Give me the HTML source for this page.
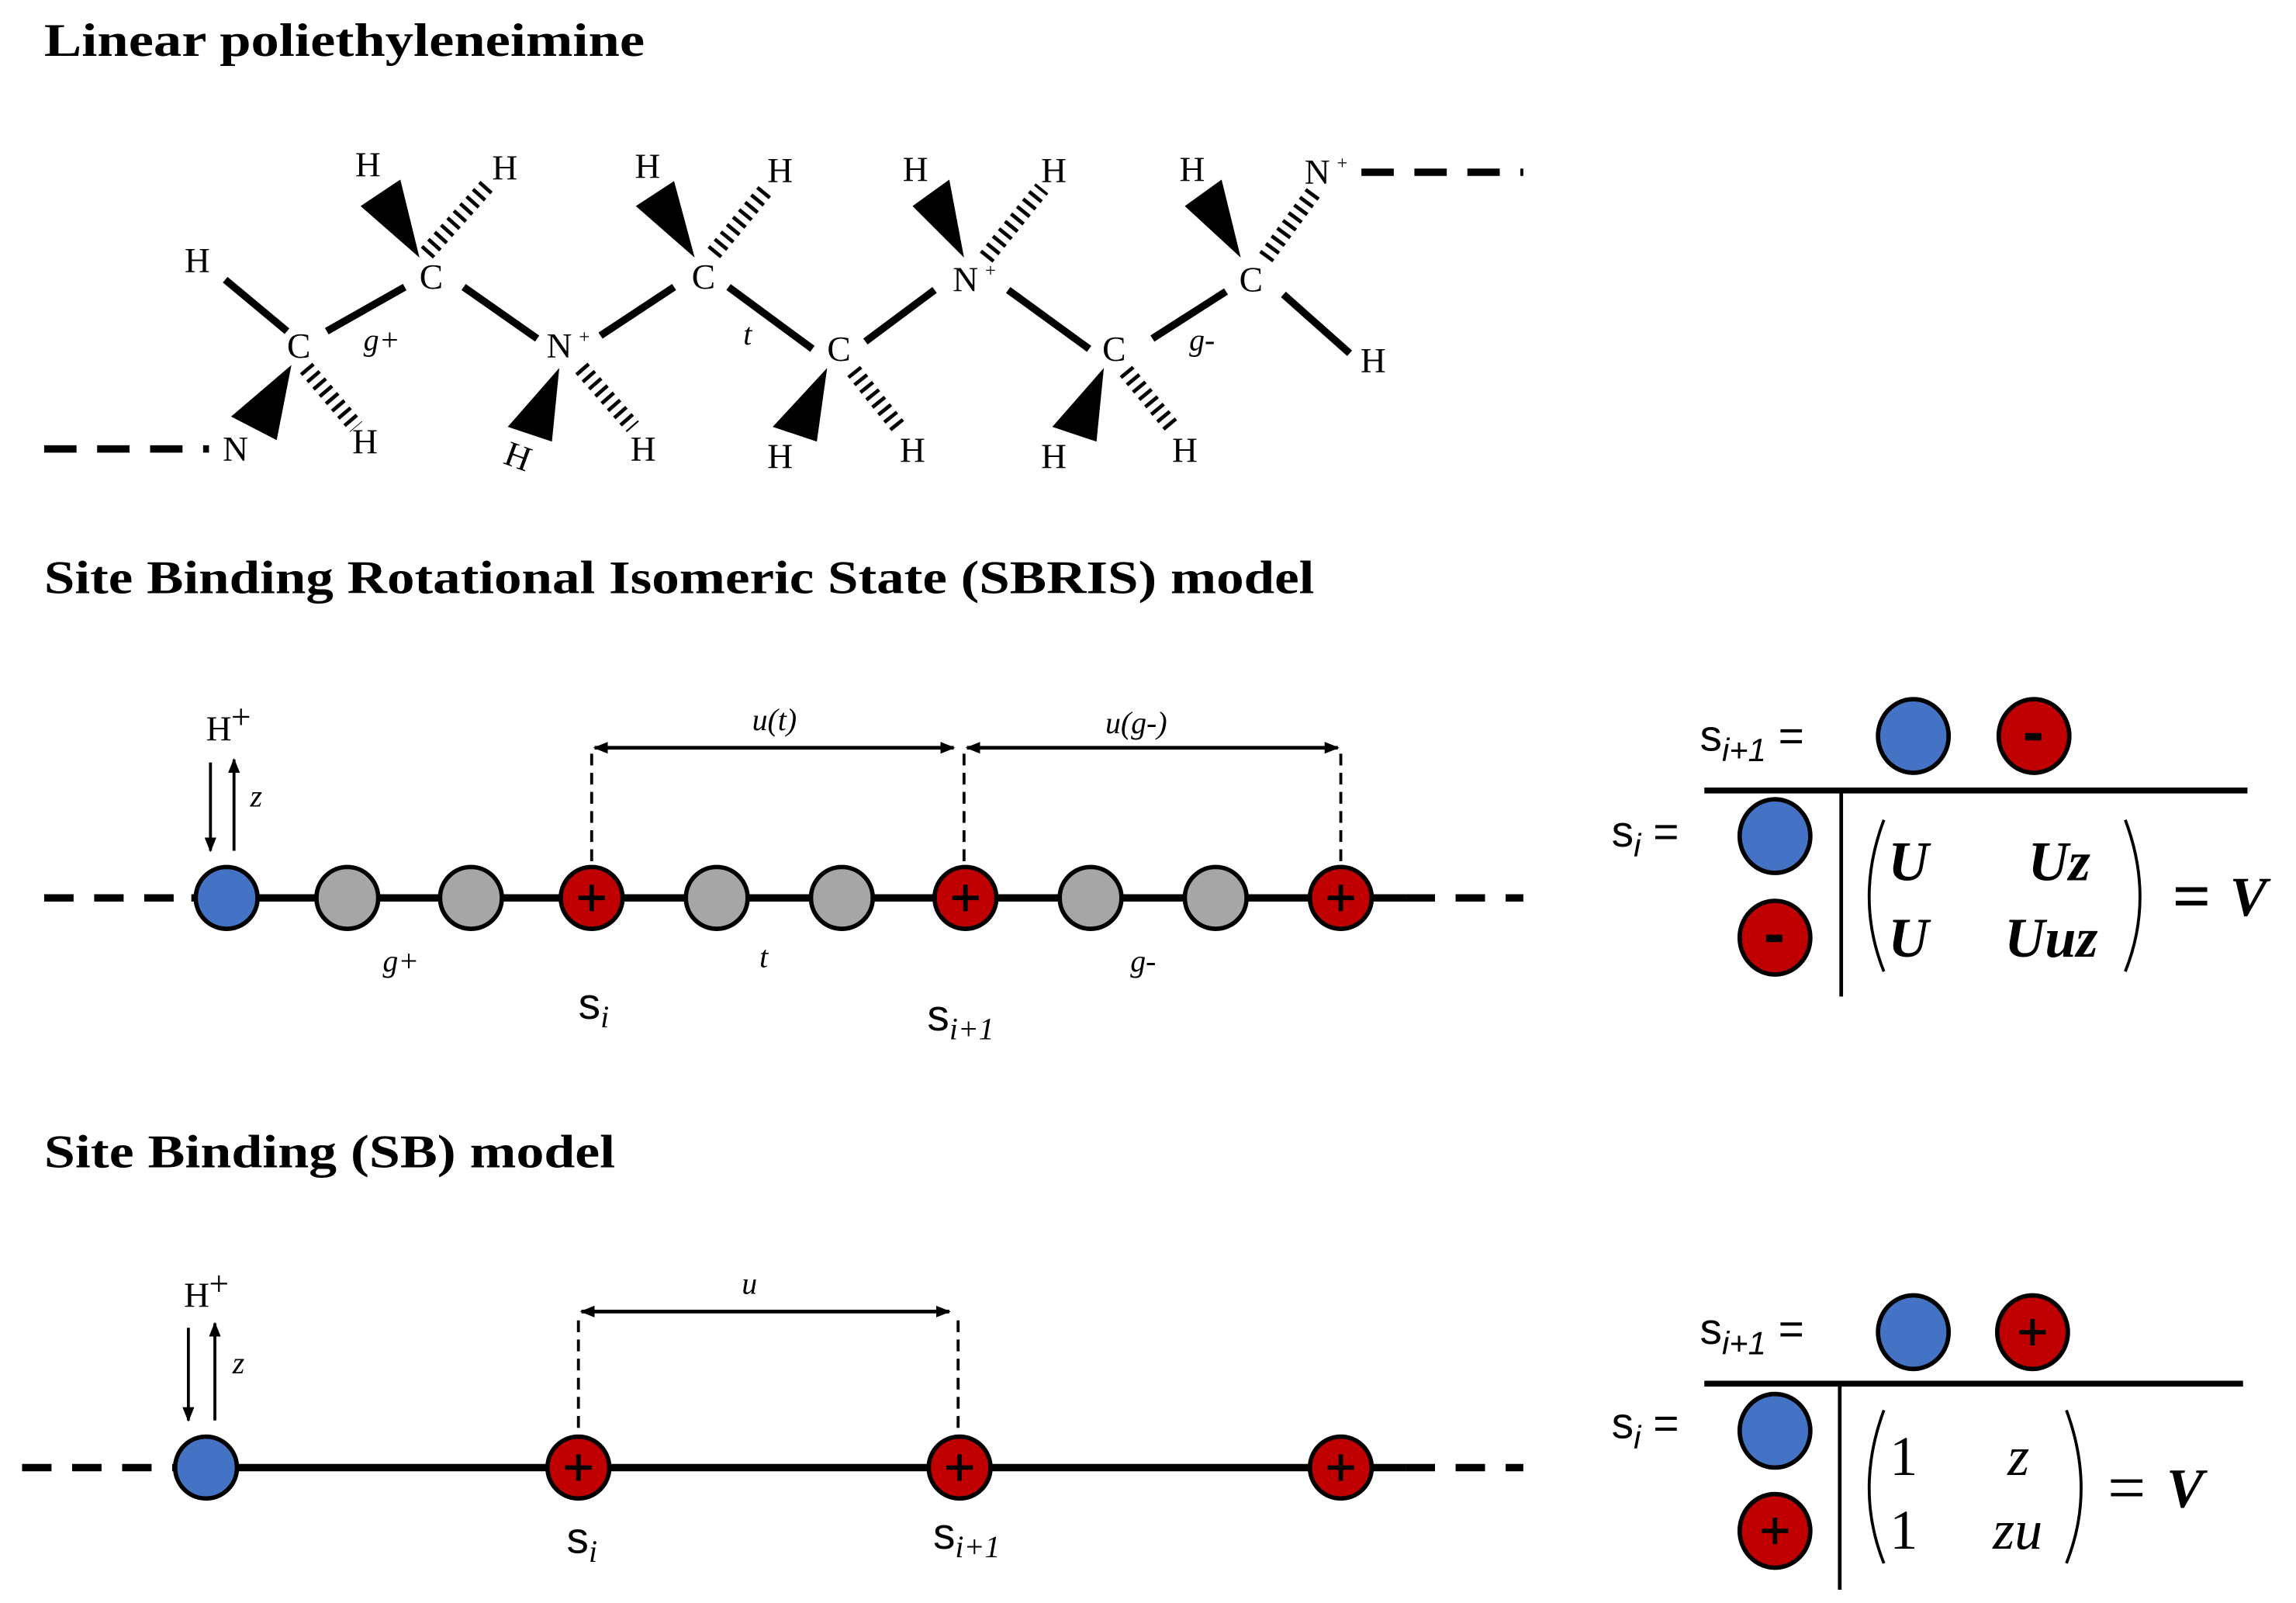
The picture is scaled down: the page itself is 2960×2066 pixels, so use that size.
<!DOCTYPE html>
<html><head><meta charset="utf-8"><style>
html,body{margin:0;padding:0;background:#fff;}
svg{display:block;}
.t{font-family:"Liberation Serif",serif;font-weight:bold;font-size:32px;}
.a{font-family:"Liberation Serif",serif;font-size:24px;}
.i{font-family:"Liberation Serif",serif;font-style:italic;font-size:21px;}
.m{font-family:"Liberation Serif",serif;font-style:italic;font-weight:bold;font-size:38px;}
.mn{font-family:"Liberation Serif",serif;font-style:italic;font-size:38px;}
.s{font-family:"Liberation Sans",sans-serif;font-size:30px;}
</style></head><body>
<svg width="2960" height="2066" viewBox="0 0 1560 1089" preserveAspectRatio="none" xmlns="http://www.w3.org/2000/svg">
<defs>
<marker id="ah" markerWidth="10" markerHeight="10" refX="9" refY="5" orient="auto-start-reverse" markerUnits="userSpaceOnUse"><path d="M0,1 L10,5 L0,9 Z" fill="#000"/></marker>
</defs>
<text class="t" x="30" y="38" textLength="408" lengthAdjust="spacingAndGlyphs">Linear poliethyleneimine</text>
<text class="t" x="30" y="403" textLength="863" lengthAdjust="spacingAndGlyphs">Site Binding Rotational Isomeric State (SBRIS) model</text>
<text class="t" x="30" y="793" textLength="388" lengthAdjust="spacingAndGlyphs">Site Binding (SB) model</text>

<!-- molecule -->
<g stroke="#000" stroke-width="5" fill="none">
<line x1="30" y1="305" x2="142" y2="305" stroke-dasharray="22,14"/>
<line x1="925" y1="117" x2="1035" y2="117" stroke-dasharray="22,14"/>
<line x1="153" y1="190" x2="195" y2="225"/>
<line x1="222" y1="225" x2="275" y2="195"/>
<line x1="315" y1="195" x2="365" y2="230"/>
<line x1="408" y1="228" x2="458" y2="195"/>
<line x1="495" y1="195" x2="552" y2="237"/>
<line x1="588" y1="232" x2="635" y2="197"/>
<line x1="685" y1="197" x2="740" y2="237"/>
<line x1="783" y1="230" x2="833" y2="198"/>
<line x1="872" y1="200" x2="917" y2="240"/>
</g>
<g fill="#000">
<polygon points="285,175 245,140 272,122"/>
<polygon points="198,248 157,283 188,299"/>
<polygon points="380,250 345,290 375,300"/>
<polygon points="472,175 432,140 458,123"/>
<polygon points="562,250 525,290 555,300"/>
<polygon points="655,175 620,140 645,122"/>
<polygon points="750,250 715,290 745,300"/>
<polygon points="843,175 805,140 830,122"/>
</g>
<g stroke="#000" stroke-dasharray="2.5,4" fill="none" stroke-width="11">
<path d="M290,172 L332,125"/>
<path d="M208,250 L242,290"/>
<path d="M395,250 L430,290"/>
<path d="M485,172 L522,127"/>
<path d="M580,252 L612,292"/>
<path d="M670,175 L708,128"/>
<path d="M765,252 L798,292"/>
<path d="M860,175 L893,130"/>
</g>
<g class="a" text-anchor="middle">
<text x="134" y="185">H</text><text x="250" y="120">H</text><text x="343" y="122">H</text>
<text x="203" y="243">C</text><text x="293" y="196">C</text><text x="380" y="243">N</text><text x="397" y="233" font-size="13">+</text>
<text x="478" y="196">C</text><text x="570" y="245">C</text><text x="656" y="198">N</text><text x="673" y="188" font-size="13">+</text>
<text x="757" y="245">C</text><text x="850" y="198">C</text><text x="895" y="125">N</text><text x="912" y="115" font-size="13">+</text>
<text x="160" y="313">N</text><text x="248" y="308">H</text><text x="352" y="318" transform="rotate(20 352 310)">H</text>
<text x="437" y="313">H</text><text x="440" y="121">H</text><text x="530" y="124">H</text>
<text x="530" y="318">H</text><text x="620" y="314">H</text><text x="622" y="123">H</text><text x="716" y="124">H</text>
<text x="716" y="318">H</text><text x="805" y="314">H</text><text x="810" y="123">H</text><text x="933" y="253">H</text>
</g>
<g class="i"><text x="247" y="238">g+</text><text x="505" y="234">t</text><text x="808" y="238">g-</text></g>

<!-- SBRIS -->
<g stroke="#000" stroke-width="5">
<line x1="30" y1="610" x2="130" y2="610" stroke-dasharray="20,14"/>
<line x1="130" y1="610" x2="955" y2="610"/>
<line x1="955" y1="610" x2="1035" y2="610" stroke-dasharray="20,14"/>
</g>
<g stroke="#000" stroke-width="2" fill="none">
<line x1="402" y1="512" x2="402" y2="590" stroke-dasharray="8,5"/>
<line x1="655" y1="512" x2="655" y2="590" stroke-dasharray="8,5"/>
<line x1="911" y1="512" x2="911" y2="590" stroke-dasharray="8,5"/>
<line x1="404" y1="508" x2="648" y2="508" stroke-width="2.5" marker-start="url(#ah)" marker-end="url(#ah)"/>
<line x1="657" y1="508" x2="909" y2="508" stroke-width="2.5" marker-start="url(#ah)" marker-end="url(#ah)"/>
<line x1="143" y1="518" x2="143" y2="578" marker-end="url(#ah)"/>
<line x1="159" y1="578" x2="159" y2="516" marker-end="url(#ah)"/>
</g>
<g stroke="#000" stroke-width="3">
<circle cx="154" cy="610" r="21" fill="#4472C4"/>
<circle cx="236" cy="610" r="21" fill="#A6A6A6"/>
<circle cx="320" cy="610" r="21" fill="#A6A6A6"/>
<circle cx="402" cy="610" r="21" fill="#C00000"/>
<circle cx="487" cy="610" r="21" fill="#A6A6A6"/>
<circle cx="572" cy="610" r="21" fill="#A6A6A6"/>
<circle cx="656" cy="610" r="21" fill="#C00000"/>
<circle cx="741" cy="610" r="21" fill="#A6A6A6"/>
<circle cx="826" cy="610" r="21" fill="#A6A6A6"/>
<circle cx="911" cy="610" r="21" fill="#C00000"/>
</g>
<g stroke="#000" stroke-width="3">
<path d="M393,610 h18 M402,601 v18"/><path d="M647,610 h18 M656,601 v18"/><path d="M902,610 h18 M911,601 v18"/>
</g>
<text class="a" x="140" y="503" font-size="21">H</text><text class="a" x="157" y="495" font-size="12">+</text>
<g class="i"><text x="170" y="548">z</text><text x="511" y="496">u(t)</text><text x="751" y="498">u(g-)</text>
<text x="260" y="660">g+</text><text x="516" y="657">t</text><text x="768" y="660">g-</text></g>
<text class="s" x="393" y="692" font-size="26">s<tspan class="i" font-size="20" dy="6">i</tspan></text>
<text class="s" x="630" y="700" font-size="26">s<tspan class="i" font-size="20" dy="6">i+1</tspan></text>

<!-- SBRIS matrix -->
<text class="s" x="1155" y="510">s<tspan font-size="22" font-style="italic" dy="7">i+1</tspan><tspan dy="-7"> =</tspan></text>
<g stroke="#000" stroke-width="3">
<ellipse cx="1300" cy="500" rx="24" ry="25" fill="#4472C4"/>
<ellipse cx="1382" cy="500" rx="24" ry="25" fill="#C00000"/>
<ellipse cx="1206" cy="568" rx="24" ry="25" fill="#4472C4"/>
<ellipse cx="1206" cy="637" rx="24" ry="25" fill="#C00000"/>
</g>
<rect x="1376" y="498" width="11" height="5" fill="#000"/>
<rect x="1200" y="635" width="11" height="5" fill="#000"/>
<line x1="1158" y1="537" x2="1527" y2="537" stroke="#000" stroke-width="4"/>
<line x1="1251" y1="537" x2="1251" y2="677" stroke="#000" stroke-width="2.5"/>
<text class="s" x="1095" y="575">s<tspan font-size="22" font-style="italic" dy="7">i</tspan><tspan dy="-7"> =</tspan></text>
<path d="M1280,557 Q1260,610 1280,660" stroke="#000" stroke-width="2" fill="none"/>
<path d="M1444,557 Q1464,610 1444,660" stroke="#000" stroke-width="2" fill="none"/>
<g class="m"><text x="1283" y="598">U</text><text x="1378" y="598">Uz</text><text x="1283" y="650">U</text><text x="1362" y="650">Uuz</text>
<text x="1476" y="624" font-style="normal" font-size="46">=</text><text x="1515" y="622">V</text></g>

<!-- SB -->
<g stroke="#000" stroke-width="5">
<line x1="15" y1="997" x2="118" y2="997" stroke-dasharray="20,14"/>
<line x1="118" y1="997" x2="955" y2="997"/>
<line x1="955" y1="997" x2="1035" y2="997" stroke-dasharray="20,14"/>
</g>
<g stroke="#000" stroke-width="2" fill="none">
<line x1="393" y1="897" x2="393" y2="975" stroke-dasharray="8,5"/>
<line x1="651" y1="897" x2="651" y2="975" stroke-dasharray="8,5"/>
<line x1="395" y1="891" x2="645" y2="891" stroke-width="2.5" marker-start="url(#ah)" marker-end="url(#ah)"/>
<line x1="128" y1="902" x2="128" y2="965" marker-end="url(#ah)"/>
<line x1="146" y1="965" x2="146" y2="899" marker-end="url(#ah)"/>
</g>
<g stroke="#000" stroke-width="3">
<circle cx="140" cy="997" r="21" fill="#4472C4"/>
<circle cx="393" cy="997" r="21" fill="#C00000"/>
<circle cx="652" cy="997" r="21" fill="#C00000"/>
<circle cx="911" cy="997" r="21" fill="#C00000"/>
<path d="M384,997 h18 M393,988 v18"/><path d="M643,997 h18 M652,988 v18"/><path d="M902,997 h18 M911,988 v18"/>
</g>
<text class="a" x="125" y="888" font-size="21">H</text><text class="a" x="142" y="880" font-size="12">+</text>
<g class="i"><text x="158" y="933">z</text><text x="504" y="879">u</text></g>
<text class="s" x="385" y="1055" font-size="26">s<tspan class="i" font-size="20" dy="6">i</tspan></text>
<text class="s" x="634" y="1052" font-size="26">s<tspan class="i" font-size="20" dy="6">i+1</tspan></text>

<!-- SB matrix -->
<text class="s" x="1155" y="913">s<tspan font-size="22" font-style="italic" dy="7">i+1</tspan><tspan dy="-7"> =</tspan></text>
<g stroke="#000" stroke-width="3">
<ellipse cx="1300" cy="905" rx="24" ry="25" fill="#4472C4"/>
<ellipse cx="1381" cy="905" rx="24" ry="25" fill="#C00000"/>
<ellipse cx="1206" cy="972" rx="24" ry="25" fill="#4472C4"/>
<ellipse cx="1206" cy="1040" rx="24" ry="25" fill="#C00000"/>
<path d="M1372,905 h18 M1381,896 v18"/><path d="M1197,1040 h18 M1206,1031 v18"/>
</g>
<line x1="1158" y1="940" x2="1524" y2="940" stroke="#000" stroke-width="4"/>
<line x1="1250" y1="940" x2="1250" y2="1080" stroke="#000" stroke-width="2.5"/>
<text class="s" x="1095" y="977">s<tspan font-size="22" font-style="italic" dy="7">i</tspan><tspan dy="-7"> =</tspan></text>
<path d="M1280,958 Q1260,1012 1280,1062" stroke="#000" stroke-width="2" fill="none"/>
<path d="M1404,958 Q1424,1012 1404,1062" stroke="#000" stroke-width="2" fill="none"/>
<g class="mn"><text x="1284" y="1002" font-style="normal">1</text><text x="1364" y="1002">z</text>
<text x="1284" y="1052" font-style="normal">1</text><text x="1354" y="1052">zu</text>
<text x="1432" y="1026" font-style="normal" font-size="46">=</text><text x="1472" y="1024" font-weight="bold">V</text></g>
</svg>
</body></html>
